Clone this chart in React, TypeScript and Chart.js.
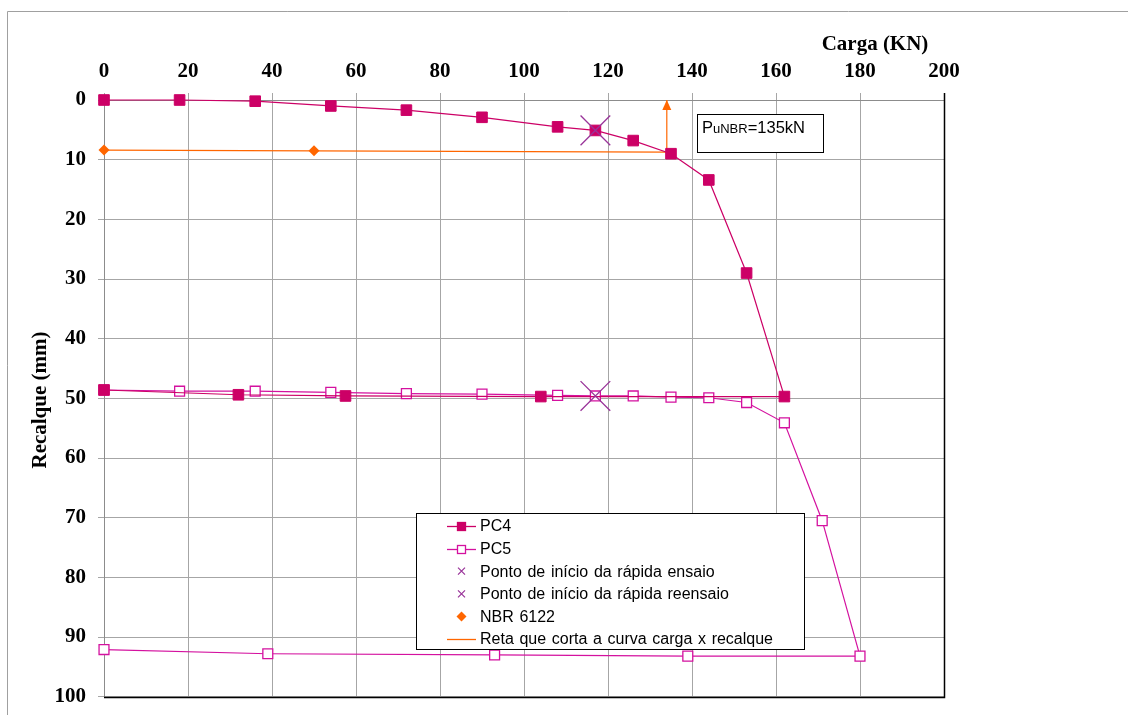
import React, { useEffect, useRef } from "react";
import { Chart, registerables } from "chart.js";

Chart.register(...registerables);

// Load (kN) and settlement (mm) readings
const PC4_LOAD = [0, 18, 36, 54, 72, 90, 108, 117, 126, 135, 144, 153, 162, 104, 57.5, 32, 0];
const PC4_SETTLEMENT = [0, 0, 0.2, 1.0, 1.7, 2.9, 4.5, 5.1, 6.8, 9.0, 13.4, 29.0, 49.7, 49.7, 49.6, 49.4, 48.6];

const PC5_LOAD = [0, 18, 36, 54, 72, 90, 108, 117, 126, 135, 144, 153, 162, 171, 180, 139, 93, 39, 0];
const PC5_SETTLEMENT = [48.6, 48.8, 48.8, 49.0, 49.2, 49.3, 49.5, 49.6, 49.6, 49.8, 49.9, 50.7, 54.1, 70.5, 93.2, 93.2, 93.0, 92.8, 92.1];

const START_TEST_LOAD = [117];
const START_TEST_SETTLEMENT = [5.1];
const START_RETEST_LOAD = [117];
const START_RETEST_SETTLEMENT = [49.6];

const NBR_LOAD = [0, 50];
const NBR_SETTLEMENT = [8.4, 8.5];

const CUT_LINE_LOAD = [0, 134];
const CUT_LINE_SETTLEMENT = [8.4, 8.74];

const ARROW_LOAD = [134, 134];
const ARROW_SETTLEMENT = [8.74, 0];

const LEGEND_LABELS = [
  "PC4",
  "PC5",
  "Ponto de início da rápida ensaio",
  "Ponto de início da rápida reensaio",
  "NBR 6122",
  "Reta que corta a curva carga x recalque",
];

const X_TITLE = "Carga (KN)";
const Y_TITLE = "Recalque (mm)";
const PU_MAIN = "P";
const PU_SUB = "uNBR";
const PU_VALUE = "=135kN";

const X_MIN = 0, X_MAX = 200, X_STEP = 20;
const Y_MIN = 0, Y_MAX = 100, Y_STEP = 10;

const PC4_COLOR = "#CC0066";
const PC5_COLOR = "#D4119F";
const CROSS_COLOR = "#993399";
const ORANGE = "#FF6600";
const GRID = "#A6A6A6";
const AXIS = "#8C8C8C";
const SERIF = "'Liberation Serif', 'Times New Roman', serif";
const SANS = "'Liberation Sans', Arial, sans-serif";

// canvas is slightly taller than the visible frame; the overflow is hidden
const VIEW_W = 1128, VIEW_H = 715, CANVAS_H = 719;

const pts = (xs: number[], ys: number[]) => xs.map((x, i) => ({ x, y: ys[i] }));

function drawSquare(ctx: CanvasRenderingContext2D, x: number, y: number, s: number, fill: string, stroke: string) {
  ctx.fillStyle = fill;
  ctx.fillRect(x - s / 2, y - s / 2, s, s);
  ctx.strokeStyle = stroke;
  ctx.lineWidth = 1.3;
  ctx.strokeRect(x - s / 2 + 0.5, y - s / 2 + 0.5, s - 1, s - 1);
}

const decorPlugin = {
  id: "decor",
  beforeDraw(chart: any) {
    const { ctx, width, height } = chart;
    ctx.save();
    ctx.fillStyle = "#fff";
    ctx.fillRect(0, 0, width, height);
    ctx.strokeStyle = "#A0A0A0";
    ctx.lineWidth = 1;
    ctx.beginPath();
    ctx.moveTo(7.5, height + 5);
    ctx.lineTo(7.5, 11.5);
    ctx.lineTo(width + 5, 11.5);
    ctx.stroke();
    ctx.restore();
  },
  beforeDatasetsDraw(chart: any) {
    const { ctx, chartArea: a } = chart;
    ctx.save();
    ctx.strokeStyle = "#000";
    ctx.lineWidth = 1.5;
    ctx.beginPath();
    ctx.moveTo(Math.round(a.left), Math.round(a.bottom) + 0.5);
    ctx.lineTo(Math.round(a.right) + 0.5, Math.round(a.bottom) + 0.5);
    ctx.lineTo(Math.round(a.right) + 0.5, Math.round(a.top) - 7);
    ctx.stroke();
    ctx.restore();
  },
  afterDatasetsDraw(chart: any) {
    const { ctx } = chart;
    const xs = chart.scales.x, ys = chart.scales.y;
    const tipX = xs.getPixelForValue(ARROW_LOAD[1]);
    const tipY = ys.getPixelForValue(ARROW_SETTLEMENT[1]);
    ctx.save();
    ctx.fillStyle = ORANGE;
    ctx.beginPath();
    ctx.moveTo(tipX, tipY);
    ctx.lineTo(tipX - 4.5, tipY + 10);
    ctx.lineTo(tipX + 4.5, tipY + 10);
    ctx.closePath();
    ctx.fill();
    ctx.restore();
  },
  afterDraw(chart: any) {
    const { ctx } = chart;
    ctx.save();
    // axis titles
    ctx.fillStyle = "#000";
    ctx.font = `bold 21px ${SERIF}`;
    ctx.textAlign = "center";
    ctx.textBaseline = "alphabetic";
    ctx.fillText(X_TITLE, 875, 49.5);
    ctx.save();
    ctx.translate(46, 400);
    ctx.rotate(-Math.PI / 2);
    ctx.fillText(Y_TITLE, 0, 0);
    ctx.restore();

    // PuNBR text box
    ctx.fillStyle = "#fff";
    ctx.fillRect(697, 114, 126, 38);
    ctx.strokeStyle = "#000";
    ctx.lineWidth = 1;
    ctx.strokeRect(697.5, 114.5, 126, 38);
    ctx.fillStyle = "#000";
    ctx.textAlign = "left";
    let tx = 702;
    ctx.font = `16.5px ${SANS}`;
    ctx.fillText(PU_MAIN, tx, 133);
    tx += ctx.measureText(PU_MAIN).width;
    ctx.font = `13px ${SANS}`;
    ctx.fillText(PU_SUB, tx, 133);
    tx += ctx.measureText(PU_SUB).width;
    ctx.font = `16.5px ${SANS}`;
    ctx.fillText(PU_VALUE, tx, 133);

    // legend
    const L = 416, T = 513, R = 804, B = 649;
    ctx.fillStyle = "#fff";
    ctx.fillRect(L, T, R - L, B - T);
    ctx.strokeStyle = "#000";
    ctx.lineWidth = 1;
    ctx.strokeRect(L + 0.5, T + 0.5, R - L, B - T);
    const rowY = [526, 548.6, 571.2, 593.8, 616.4, 639];
    const sx0 = 447, sx1 = 476, mx = 461.5;
    ctx.font = `16px ${SANS}`;
    (ctx as any).wordSpacing = "1.2px";
    ctx.textBaseline = "middle";
    LEGEND_LABELS.forEach((label, i) => {
      const y = rowY[i];
      const yy = Math.round(y) + 0.5;
      if (i === 0 || i === 1 || i === 5) {
        ctx.strokeStyle = i === 0 ? PC4_COLOR : i === 1 ? PC5_COLOR : ORANGE;
        ctx.lineWidth = 1.3;
        ctx.beginPath();
        ctx.moveTo(sx0, yy);
        ctx.lineTo(sx1, yy);
        ctx.stroke();
      }
      if (i === 0) drawSquare(ctx, mx, yy, 9, PC4_COLOR, PC4_COLOR);
      if (i === 1) drawSquare(ctx, mx, yy, 9, "#fff", PC5_COLOR);
      if (i === 2 || i === 3) {
        ctx.strokeStyle = CROSS_COLOR;
        ctx.lineWidth = 1.2;
        ctx.beginPath();
        ctx.moveTo(mx - 3.5, y - 3.5);
        ctx.lineTo(mx + 3.5, y + 3.5);
        ctx.moveTo(mx + 3.5, y - 3.5);
        ctx.lineTo(mx - 3.5, y + 3.5);
        ctx.stroke();
      }
      if (i === 4) {
        ctx.fillStyle = ORANGE;
        ctx.beginPath();
        ctx.moveTo(mx, y - 5);
        ctx.lineTo(mx + 5, y);
        ctx.lineTo(mx, y + 5);
        ctx.lineTo(mx - 5, y);
        ctx.closePath();
        ctx.fill();
      }
      ctx.fillStyle = "#000";
      ctx.fillText(label, 480, y + 1);
    });
    ctx.restore();
  },
};

export default function App() {
  const ref = useRef<HTMLCanvasElement>(null);

  useEffect(() => {
    const tickFont = { family: SERIF, size: 21, weight: "bold" as const };
    const chart = new Chart(ref.current!, {
      type: "scatter",
      data: {
        datasets: [
          {
            label: LEGEND_LABELS[2],
            data: pts(START_TEST_LOAD, START_TEST_SETTLEMENT),
            pointStyle: "crossRot",
            pointRadius: 21,
            pointBorderColor: CROSS_COLOR,
            pointBorderWidth: 1.3,
            showLine: false,
            order: 0,
            clip: false,
          },
          {
            label: LEGEND_LABELS[3],
            data: pts(START_RETEST_LOAD, START_RETEST_SETTLEMENT),
            pointStyle: "crossRot",
            pointRadius: 21,
            pointBorderColor: CROSS_COLOR,
            pointBorderWidth: 1.3,
            showLine: false,
            order: 0,
            clip: false,
          },
          {
            label: LEGEND_LABELS[0],
            data: pts(PC4_LOAD, PC4_SETTLEMENT),
            showLine: true,
            borderColor: PC4_COLOR,
            borderWidth: 1.2,
            pointStyle: "rect",
            pointRadius: 7.5,
            pointBackgroundColor: PC4_COLOR,
            pointBorderColor: PC4_COLOR,
            pointBorderWidth: 1,
            order: 1,
            clip: false,
          },
          {
            label: LEGEND_LABELS[1],
            data: pts(PC5_LOAD, PC5_SETTLEMENT),
            showLine: true,
            borderColor: PC5_COLOR,
            borderWidth: 1.2,
            pointStyle: "rect",
            pointRadius: 7,
            pointBackgroundColor: "#fff",
            pointBorderColor: PC5_COLOR,
            pointBorderWidth: 1.3,
            order: 2,
            clip: false,
          },
          {
            label: LEGEND_LABELS[4],
            data: pts(NBR_LOAD, NBR_SETTLEMENT),
            showLine: false,
            pointStyle: "rectRot",
            pointRadius: 5.5,
            pointBackgroundColor: ORANGE,
            pointBorderColor: ORANGE,
            pointBorderWidth: 0,
            order: 3,
            clip: false,
          },
          {
            label: LEGEND_LABELS[5],
            data: pts(CUT_LINE_LOAD, CUT_LINE_SETTLEMENT),
            showLine: true,
            borderColor: ORANGE,
            borderWidth: 1.2,
            pointRadius: 0,
            order: 4,
            clip: false,
          },
          {
            label: "arrow",
            data: pts(ARROW_LOAD, ARROW_SETTLEMENT),
            showLine: true,
            borderColor: ORANGE,
            borderWidth: 1.2,
            pointRadius: 0,
            order: 4,
            clip: false,
          },
        ],
      },
      options: {
        animation: false,
        responsive: false,
        devicePixelRatio: 1,
        events: [],
        layout: { padding: { left: 0, top: 0, right: 184, bottom: 14 } },
        plugins: { legend: { display: false }, tooltip: { enabled: false } },
        scales: {
          x: {
            type: "linear",
            position: "top",
            min: X_MIN,
            max: X_MAX,
            ticks: { stepSize: X_STEP, color: "#000", font: tickFont, padding: 9 },
            grid: { color: GRID, lineWidth: 1, tickLength: 7 },
            border: { color: AXIS, width: 1 },
            afterFit: (s: any) => {
              s.height = 100;
              s.paddingLeft = 0;
              s.paddingRight = 0;
            },
          },
          y: {
            type: "linear",
            reverse: true,
            min: Y_MIN,
            max: Y_MAX,
            ticks: { stepSize: Y_STEP, color: "#000", font: tickFont, padding: 12 },
            grid: { color: GRID, lineWidth: 1, tickLength: 6 },
            border: { color: AXIS, width: 1 },
            afterFit: (s: any) => {
              s.width = 104;
              s.paddingTop = 0;
              s.paddingBottom = 0;
            },
          },
        },
      },
      plugins: [decorPlugin],
    } as any);
    return () => chart.destroy();
  }, []);

  return (
    <div
      style={{
        position: "absolute",
        left: 0,
        top: 0,
        width: VIEW_W,
        height: VIEW_H,
        overflow: "hidden",
        background: "#fff",
      }}
    >
      <canvas ref={ref} width={VIEW_W} height={CANVAS_H} style={{ display: "block" }} />
    </div>
  );
}
